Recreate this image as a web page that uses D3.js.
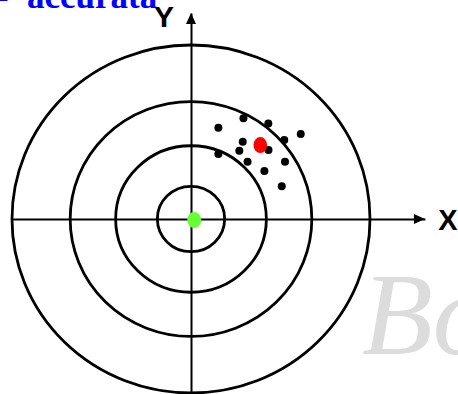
<!DOCTYPE html>
<html>
<head>
<meta charset="utf-8">
<script src="https://cdn.jsdelivr.net/npm/d3@7"></script>
<style>
  html, body { margin: 0; padding: 0; background: #fff; }
  svg { display: block; }
</style>
</head>
<body>
<svg id="chart" width="458" height="394"></svg>
<script>
// ---- data ----
const ringRadii = [1.0, 0.675, 0.421, 0.188];
const shotX = [0.153, 0.293, 0.432, 0.613, 0.289, 0.521, 0.270, 0.433, 0.153, 0.316, 0.525, 0.410, 0.507];
const shotY = [0.525, 0.579, 0.549, 0.489, 0.444, 0.454, 0.392, 0.397, 0.374, 0.329, 0.329, 0.276, 0.188];
const meanPoint = [0.387, 0.425];
const truePoint = [0.018, -0.006];
const axisLabels = ["X", "Y"];
const titleParts = ["-", "accurata"];
const watermarkText = "Bo";
const xAxisExtent = [-1.0, 1.307];
const yAxisExtent = [-1.01, 1.184];

// ---- layout ----
const svg = d3.select("#chart");
const cx = 191, cy = 219, rx = 179, ry = 174;
const x = d3.scaleLinear().domain([-1, 1]).range([cx - rx, cx + rx]);
const y = d3.scaleLinear().domain([-1, 1]).range([cy + ry, cy - ry]);

// watermark
svg.append("text")
  .attr("x", 362).attr("y", 354)
  .attr("font-family", "Liberation Serif, Times New Roman, serif")
  .attr("font-style", "italic")
  .attr("font-size", 116)
  .attr("fill", "#dcdcdc")
  .text(watermarkText);

// rings
svg.append("g").selectAll("ellipse")
  .data(ringRadii).join("ellipse")
  .attr("cx", x(0)).attr("cy", y(0))
  .attr("rx", d => x(d) - x(0))
  .attr("ry", d => y(0) - y(d))
  .attr("fill", "none")
  .attr("stroke", "#000")
  .attr("stroke-width", 2.8);

// axes
const xs = d3.scaleLinear().domain(xAxisExtent).range([x(xAxisExtent[0]), x(xAxisExtent[1])]);
const ys = d3.scaleLinear().domain(yAxisExtent).range([y(yAxisExtent[0]), y(yAxisExtent[1])]);
svg.append("g").attr("transform", `translate(0,${y(0)})`)
  .call(d3.axisBottom(xs).tickValues([]).tickSizeOuter(0));
svg.append("g").attr("transform", `translate(${x(0)},0)`)
  .call(d3.axisLeft(ys).tickValues([]).tickSizeOuter(0));
svg.selectAll(".domain").attr("stroke", "#000").attr("stroke-width", 2);

// arrowheads
const xt = xs(xAxisExtent[1]), yt = ys(yAxisExtent[1]);
svg.append("path")
  .attr("d", `M${xt},${y(0)} L${xt - 11},${y(0) - 5} L${xt - 11},${y(0) + 5} Z`)
  .attr("fill", "#000");
svg.append("path")
  .attr("d", `M${x(0)},${yt} L${x(0) - 5},${yt + 11} L${x(0) + 5},${yt + 11} Z`)
  .attr("fill", "#000");

// axis labels
svg.append("text")
  .attr("x", 448).attr("y", y(0) + 11)
  .attr("text-anchor", "middle")
  .attr("font-family", "Liberation Sans, Arial, sans-serif")
  .attr("font-weight", "bold").attr("font-size", 29)
  .text(axisLabels[0]);
svg.append("text")
  .attr("x", 164).attr("y", 27)
  .attr("text-anchor", "middle")
  .attr("font-family", "Liberation Sans, Arial, sans-serif")
  .attr("font-weight", "bold").attr("font-size", 30)
  .text(axisLabels[1]);

// shots
const shots = shotX.map((v, i) => [v, shotY[i]]);
svg.append("g").selectAll("circle")
  .data(shots).join("circle")
  .attr("cx", d => x(d[0])).attr("cy", d => y(d[1]))
  .attr("r", 4).attr("fill", "#000");

// mean (red) and true (green)
svg.append("ellipse")
  .attr("cx", x(meanPoint[0])).attr("cy", y(meanPoint[1]))
  .attr("rx", 6.8).attr("ry", 8).attr("fill", "#ff0000");
svg.append("ellipse")
  .attr("cx", x(truePoint[0])).attr("cy", y(truePoint[1]))
  .attr("rx", 7).attr("ry", 8).attr("fill", "#66ff33");

// title (cut off at top)
const title = svg.append("text")
  .attr("y", 8)
  .attr("font-family", "Liberation Serif, Times New Roman, serif")
  .attr("font-weight", "bold").attr("font-size", 35)
  .attr("fill", "#0000ff");
title.append("tspan").attr("x", -3).text(titleParts[0]);
title.append("tspan").attr("x", 27).text(titleParts[1]);
</script>
</body>
</html>
